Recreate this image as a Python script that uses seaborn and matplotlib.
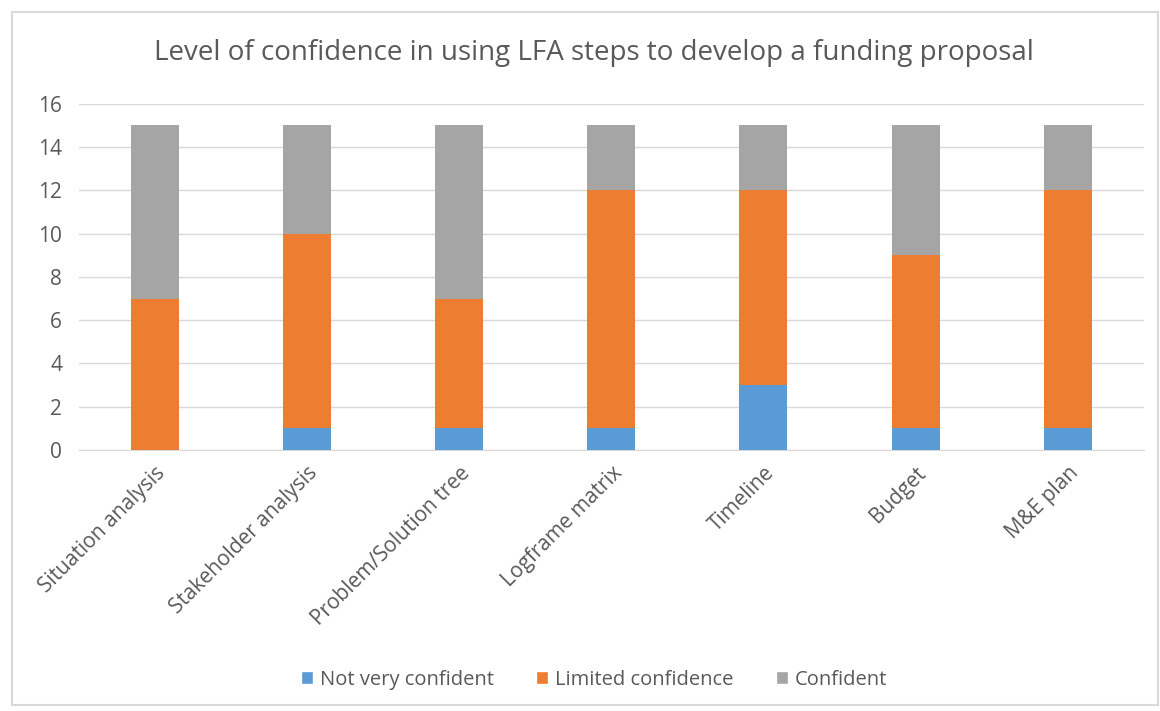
import numpy as np
import pandas as pd
import seaborn as sns
import matplotlib.pyplot as plt
from matplotlib.patches import Rectangle, Patch

categories = ['Situation analysis', 'Stakeholder analysis', 'Problem/Solution tree',
              'Logframe matrix', 'Timeline', 'Budget', 'M&E plan']
not_very_confident = [0, 1, 1, 1, 3, 1, 1]
limited_confidence = [7, 9, 6, 11, 9, 8, 11]
confident = [8, 5, 8, 3, 3, 6, 3]

series_names = ['Not very confident', 'Limited confidence', 'Confident']
colors = ['#5B9BD5', '#ED7D31', '#A5A5A5']

sns.set_style('white')
plt.rcParams['font.family'] = ['Open Sans', 'DejaVu Sans']
text_color = '#595959'

df = pd.DataFrame({
    'step': categories,
    'Not very confident': not_very_confident,
    'Limited confidence': limited_confidence,
    'Confident': confident,
})
# cumulative tops for stacking
df['top1'] = df['Not very confident']
df['top2'] = df['top1'] + df['Limited confidence']
df['top3'] = df['top2'] + df['Confident']

fig = plt.figure(figsize=(11.6, 7.11), dpi=100)
ax = fig.add_axes([0.068, 0.367, 0.918, 0.487])

# draw tallest first so the lower segments sit on top
for col, c in zip(['top3', 'top2', 'top1'], colors[::-1]):
    sns.barplot(data=df, x='step', y=col, color=c, width=0.316,
                saturation=1, linewidth=0, ax=ax, zorder=3)

ax.set_ylim(0, 16)
ax.set_yticks(np.arange(0, 17, 2))
ax.set_xlim(-0.5, len(categories) - 0.5)
ax.yaxis.grid(True, color='#d9d9d9', linewidth=1, zorder=0)
ax.set_axisbelow(True)
for s in ['top', 'right', 'left']:
    ax.spines[s].set_visible(False)
ax.spines['bottom'].set_color('#d9d9d9')
ax.set_xlabel('')
ax.set_ylabel('')
ax.tick_params(axis='both', length=0, colors=text_color, labelsize=15)
ax.tick_params(axis='y', pad=12)
ax.tick_params(axis='x', pad=9)
ax.set_xticks(range(len(categories)))
ax.set_xticklabels(categories, rotation=45, ha='right', rotation_mode='anchor')

fig.text(0.512, 0.925, 'Level of confidence in using LFA steps to develop a funding proposal',
         ha='center', va='center', fontsize=20, color=text_color)

handles = [Patch(facecolor=c, label=n) for c, n in zip(colors, series_names)]
fig.legend(handles=handles, loc='center', bbox_to_anchor=(0.512, 0.044), ncol=3,
           frameon=False, fontsize=14.5, labelcolor=text_color,
           handlelength=0.6, handleheight=0.6, handletextpad=0.35, columnspacing=2.1)

fig.patches.append(Rectangle((0.01, 0.008), 0.988, 0.975, transform=fig.transFigure,
                             fill=False, edgecolor='#d9d9d9', linewidth=1.5))

fig.savefig('out.png', dpi=100)
